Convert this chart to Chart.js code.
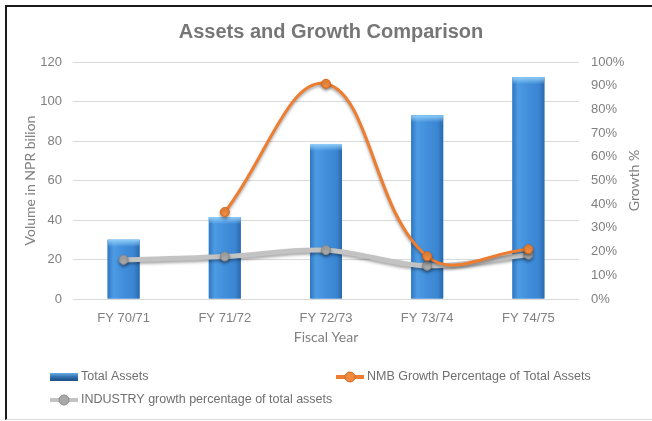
<!DOCTYPE html>
<html>
<head>
<meta charset="utf-8">
<script src="https://cdn.jsdelivr.net/npm/chart.js@4.4.1/dist/chart.umd.min.js"></script>
<style>
  html, body { margin: 0; padding: 0; background: #fff; }
  #frame { position: absolute; left: 5px; top: 5px; width: 647px; height: 412px;
           border-top: 2px solid #1a1a1a; border-left: 2px solid #1a1a1a; border-bottom: 1px solid #d9d9d9; }
  #wrap { position: absolute; left: 0; top: 0; width: 652px; height: 421px; }
</style>
</head>
<body>
<div id="frame"></div>
<div id="wrap"><canvas id="myChart" width="652" height="421"></canvas></div>
<script>
// fiscal years and values (assets in NPR billion, growth in %)
var fiscalYears = ["FY 70/71", "FY 71/72", "FY 72/73", "FY 73/74", "FY 74/75"];
var totalAssets = [30, 41.5, 78.5, 93, 112.3];
var nmbGrowth = [null, 36.7, 90.8, 18, 21];
var industryGrowth = [16.5, 17.9, 20.6, 14, 18.7];

var NARROW = "'Liberation Sans Narrow', 'Arial Narrow', 'Liberation Sans', Arial, sans-serif";
var SOFT = "Lato, 'Open Sans', sans-serif";
var GREY_TEXT = "#808080";

// shaded look for the bars, drawn over the plain fill
var barShade = {
    id: "barShade",
    afterDatasetDraw: function (chart, args) {
        if (args.meta.type != "bar") return;
        var ctx = chart.ctx;
        args.meta.data.forEach(function (bar) {
            var left = bar.x - bar.width / 2, right = bar.x + bar.width / 2;
            var g = ctx.createLinearGradient(left, 0, right, 0);
            g.addColorStop(0, "#2f76c2");
            g.addColorStop(0.18, "#4c9be3");
            g.addColorStop(0.5, "#428edb");
            g.addColorStop(0.82, "#3b86d2");
            g.addColorStop(1, "#2a69ae");
            ctx.save();
            ctx.fillStyle = g;
            ctx.fillRect(left, bar.y, bar.width, bar.base - bar.y);
            var cap = ctx.createLinearGradient(0, bar.y, 0, bar.y + 7);
            cap.addColorStop(0, "rgba(150,210,250,0.95)");
            cap.addColorStop(1, "rgba(150,210,250,0)");
            ctx.fillStyle = cap;
            ctx.fillRect(left, bar.y, bar.width, 7);
            ctx.restore();
        });
    }
};

// soft drop shadow under the growth lines
var lineShadow = {
    id: "lineShadow",
    beforeDatasetDraw: function (chart, args) {
        if (args.meta.type != "line") return;
        var ctx = chart.ctx;
        ctx.save();
        ctx.shadowColor = "rgba(0,0,0,0.35)";
        ctx.shadowBlur = 3;
        ctx.shadowOffsetY = 2;
    },
    afterDatasetDraw: function (chart, args) {
        if (args.meta.type != "line") return;
        chart.ctx.restore();
    }
};

// right axis title (reads bottom to top) and the legend block
var extras = {
    id: "extras",
    afterDraw: function (chart) {
        var ctx = chart.ctx;
        var area = chart.chartArea;
        ctx.save();
        ctx.translate(634, (area.top + area.bottom) / 2);
        ctx.rotate(-Math.PI / 2);
        ctx.font = "14px " + SOFT;
        ctx.fillStyle = GREY_TEXT;
        ctx.textAlign = "center";
        ctx.textBaseline = "middle";
        ctx.fillText("Growth %", 0, 0);
        ctx.restore();

        var spots = [{x: 50, y: 377}, {x: 336, y: 377}, {x: 50, y: 400}];
        chart.data.datasets.forEach(function (ds, i) {
            var s = spots[i];
            ctx.save();
            if (ds.type == "bar") {
                var g = ctx.createLinearGradient(0, s.y - 4, 0, s.y + 4);
                g.addColorStop(0, "#6aaee6");
                g.addColorStop(0.5, "#2f6fae");
                g.addColorStop(1, "#1d4f82");
                ctx.fillStyle = g;
                ctx.fillRect(s.x, s.y - 4, 28, 8);
            } else {
                ctx.strokeStyle = ds.borderColor;
                ctx.lineWidth = 4;
                ctx.beginPath();
                ctx.moveTo(s.x, s.y);
                ctx.lineTo(s.x + 28, s.y);
                ctx.stroke();
                ctx.fillStyle = ds.pointBackgroundColor;
                ctx.strokeStyle = ds.pointBorderColor;
                ctx.lineWidth = 1;
                ctx.beginPath();
                ctx.arc(s.x + 14, s.y, 5, 0, Math.PI * 2);
                ctx.fill();
                ctx.stroke();
            }
            ctx.font = "12.5px " + NARROW;
            ctx.fillStyle = "#6f6f6f";
            ctx.textAlign = "left";
            ctx.textBaseline = "middle";
            ctx.fillText(ds.label, s.x + 31, s.y);
            ctx.restore();
        });
    }
};

function drawChart() {
    var ctx = document.getElementById("myChart");
    new Chart(ctx, {
        data: {
            labels: fiscalYears,
            datasets: [
                {
                    type: "bar",
                    label: "Total Assets",
                    data: totalAssets,
                    backgroundColor: "#428edb",
                    barPercentage: 0.316,
                    categoryPercentage: 1,
                    yAxisID: "y",
                    order: 3
                },
                {
                    type: "line",
                    label: "NMB Growth Percentage of Total Assets",
                    data: nmbGrowth,
                    borderColor: "#ed7d31",
                    borderWidth: 3,
                    tension: 0.4,
                    pointRadius: 4.5,
                    pointBackgroundColor: "#f08a3e",
                    pointBorderColor: "#d4661c",
                    pointBorderWidth: 1,
                    yAxisID: "y1",
                    order: 1
                },
                {
                    type: "line",
                    label: "INDUSTRY growth percentage of total assets",
                    data: industryGrowth,
                    borderColor: "#c3c3c3",
                    borderWidth: 5,
                    tension: 0.34,
                    pointRadius: 4.5,
                    pointBackgroundColor: "#a9a9a9",
                    pointBorderColor: "#8a8a8a",
                    pointBorderWidth: 1,
                    yAxisID: "y1",
                    order: 2
                }
            ]
        },
        options: {
            responsive: false,
            animation: false,
            layout: { padding: { left: 10, right: 0, top: 0, bottom: 75 } },
            plugins: {
                legend: { display: false },
                tooltip: { enabled: false },
                title: {
                    display: true,
                    text: "Assets and Growth Comparison",
                    color: "#767676",
                    font: { family: NARROW, size: 20, weight: "bold" },
                    padding: { top: 20, bottom: 18 }
                }
            },
            scales: {
                x: {
                    grid: { display: false, drawTicks: false },
                    border: { display: false },
                    ticks: { color: GREY_TEXT, font: { family: NARROW, size: 13 }, padding: 12 },
                    title: {
                        display: true, text: "Fiscal Year", color: GREY_TEXT,
                        font: { family: SOFT, size: 14 }, padding: { top: 4, bottom: 0 }
                    },
                    afterFit: function (scale) { scale.height = 47; }
                },
                y: {
                    position: "left",
                    min: 0, max: 120,
                    grid: { color: "#d9d9d9", drawTicks: false },
                    border: { display: false },
                    ticks: { stepSize: 20, color: GREY_TEXT, font: { family: NARROW, size: 13 }, padding: 11 },
                    title: {
                        display: true, text: "Volume in NPR bilion", color: GREY_TEXT,
                        font: { family: SOFT, size: 14 }, padding: { top: 12, bottom: 0 }
                    },
                    afterFit: function (scale) { scale.width = 63; }
                },
                y1: {
                    position: "right",
                    min: 0, max: 100,
                    grid: { display: false, drawTicks: false },
                    border: { display: false },
                    ticks: {
                        stepSize: 10, color: GREY_TEXT, font: { family: NARROW, size: 13 }, padding: 12,
                        callback: function (v) { return v + "%"; }
                    },
                    afterFit: function (scale) { scale.width = 73; }
                }
            }
        },
        plugins: [barShade, lineShadow, extras]
    });
}
drawChart();
</script>
</body>
</html>
